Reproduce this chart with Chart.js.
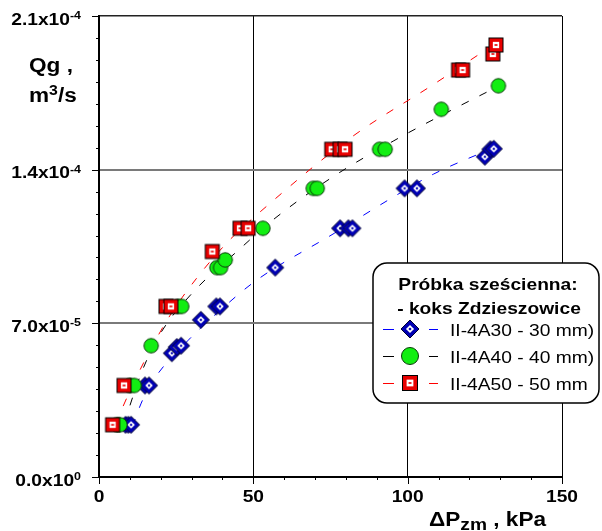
<!DOCTYPE html>
<html>
<head>
<meta charset="utf-8">
<script src="https://cdn.jsdelivr.net/npm/chart.js@4.4.1/dist/chart.umd.min.js"></script>
<style>
  html, body { margin: 0; padding: 0; background: #fff; }
  #wrap { width: 602px; height: 531px; }
</style>
</head>
<body>
<div id="wrap"><canvas id="chart" width="602" height="531"></canvas></div>
<script>
// ---- dane ----
const xTicks = [0, 50, 100, 150];
const yTicks = [0, 7e-5, 1.4e-4, 2.1e-4];
const legendTitle = ['Próbka sześcienna:', '- koks Zdzieszowice'];
const seriesNames = ['II-4A30 - 30 mm)', 'II-4A40 - 40 mm)', 'II-4A50 - 50 mm'];

// II-4A30 (niebieskie romby)
const dp30 = [8.6, 9.5, 10.4, 14.9, 16.2, 23.6, 25.2, 26.6, 33.0, 38.0, 39.2, 57.1, 78.1, 80.8, 82.1, 99.0, 103.0, 125.0, 126.8, 127.9];
const q30  = [2.38e-5, 2.38e-5, 2.38e-5, 4.17e-5, 4.17e-5, 5.64e-5, 5.92e-5, 5.98e-5, 7.16e-5, 7.77e-5, 7.77e-5, 9.54e-5, 11.33e-5, 11.33e-5, 11.33e-5, 13.15e-5, 13.15e-5, 14.59e-5, 14.93e-5, 14.95e-5];
// II-4A40 (zielone kola)
const dp40 = [5.8, 6.8, 10.0, 11.4, 16.9, 25.7, 26.8, 38.2, 39.4, 40.9, 53.1, 69.4, 70.7, 90.9, 92.7, 110.9, 129.4];
const q40  = [2.38e-5, 2.38e-5, 4.17e-5, 4.17e-5, 5.98e-5, 7.77e-5, 7.77e-5, 9.54e-5, 9.54e-5, 9.89e-5, 11.33e-5, 13.15e-5, 13.15e-5, 14.93e-5, 14.93e-5, 16.75e-5, 17.82e-5];
// II-4A50 (czerwone kwadraty)
const dp50 = [4.4, 8.1, 21.7, 23.3, 36.7, 45.7, 48.3, 75.4, 78.1, 79.7, 116.5, 117.8, 127.6, 128.6];
const q50  = [2.38e-5, 4.17e-5, 7.77e-5, 7.77e-5, 10.27e-5, 11.33e-5, 11.33e-5, 14.93e-5, 14.93e-5, 14.93e-5, 18.54e-5, 18.54e-5, 19.27e-5, 19.68e-5];

const fit30x = [10.8, 14.1, 18.3, 28.7, 38.1, 50.9, 76.2, 95.9, 108.4, 128.7];
const fit30y = [2.3e-5, 3.5e-5, 4.55e-5, 6.2e-5, 7.45e-5, 8.95e-5, 11.1e-5, 12.8e-5, 13.8e-5, 15.05e-5];
const fit40x = [8.0, 13.6, 19.3, 29.7, 45.7, 56.7, 75.5, 95.3, 115.4, 128.7];
const fit40y = [2.4e-5, 4.7e-5, 6.4e-5, 8.3e-5, 10.4e-5, 11.75e-5, 13.65e-5, 15.3e-5, 16.8e-5, 17.75e-5];
const fit50x = [5.2, 12.3, 22.3, 31.6, 42.0, 52.8, 82.0, 108.0, 129.0];
const fit50y = [2.4e-5, 4.6e-5, 7.2e-5, 9.05e-5, 10.75e-5, 12.15e-5, 15.5e-5, 17.85e-5, 19.8e-5];

const colors = ['#0000ff', '#000000', '#ff0000'];
const SX = 1.13; // tekst w oryginale jest lekko rozciagniety w poziomie

function pts(xs, ys) { return xs.map((x, i) => ({ x: x, y: ys[i] })); }

function diamondPath(g, cx, cy, h) {
  g.beginPath();
  g.moveTo(cx, cy - h); g.lineTo(cx + h, cy); g.lineTo(cx, cy + h); g.lineTo(cx - h, cy);
  g.closePath();
}

// markery jako male canvasy
function marker(kind, big) {
  const s = big ? 22 : 20;
  const c = document.createElement('canvas');
  c.width = s; c.height = s;
  const g = c.getContext('2d');
  const m = s / 2;
  if (kind === 'diamond') {
    const h = big ? 9 : 8.5;
    diamondPath(g, m, m, h);
    g.fillStyle = '#0000b4'; g.fill();
    g.lineWidth = 1; g.strokeStyle = '#000030'; g.stroke();
    diamondPath(g, m, m, h * 0.45);
    g.fillStyle = '#fff'; g.fill();
    diamondPath(g, m, m, h * 0.18);
    g.fillStyle = '#0000b4'; g.fill();
  } else if (kind === 'circle') {
    const r = big ? 8.5 : 7.2;
    g.beginPath(); g.arc(m, m, r, 0, Math.PI * 2);
    g.fillStyle = '#12ee12'; g.fill();
    g.lineWidth = 1; g.strokeStyle = '#0a3a0a'; g.stroke();
  } else {
    const h = big ? 7.5 : 7;
    g.fillStyle = '#e80000';
    g.fillRect(m - h, m - h, 2 * h, 2 * h);
    g.lineWidth = 1; g.strokeStyle = '#000';
    g.strokeRect(m - h, m - h, 2 * h, 2 * h);
    g.fillStyle = '#fff';
    g.fillRect(m - h * 0.45, m - h * 0.45, h * 0.9, h * 0.9);
    g.fillStyle = '#e80000';
    g.fillRect(m - 1.5, m - 0.8, 3, 1.6);
  }
  return c;
}

const mk = [marker('diamond'), marker('circle'), marker('square')];
const mkBig = [marker('diamond', true), marker('circle', true), marker('square', true)];

function txt(ctx, s, x, y, font, align) {
  ctx.font = font;
  const w = ctx.measureText(s).width * SX;
  const x0 = align === 'center' ? x - w / 2 : (align === 'right' ? x - w : x);
  ctx.save();
  ctx.translate(x0, y);
  ctx.scale(SX, 1);
  ctx.textAlign = 'left';
  ctx.textBaseline = 'alphabetic';
  ctx.fillText(s, 0, 0);
  ctx.restore();
  return w;
}

const FONT = '"Liberation Sans", Arial, sans-serif';

// osie, etykiety i legenda
const decor = {
  id: 'decor',
  afterDraw(chart) {
    const ctx = chart.ctx;
    const a = chart.chartArea;
    const x = chart.scales.x, y = chart.scales.y;
    ctx.save();
    ctx.strokeStyle = '#000';
    ctx.fillStyle = '#000';
    ctx.lineWidth = 1;

    // podzialki
    for (let i = 0; i <= 15; i++) {
      const px = Math.round(x.getPixelForValue(i * 10)) + 0.5;
      const len = i % 5 === 0 ? 7 : 3;
      ctx.beginPath(); ctx.moveTo(px, a.bottom); ctx.lineTo(px, a.bottom + len); ctx.stroke();
    }
    for (let i = 0; i <= 21; i++) {
      const py = Math.round(y.getPixelForValue(i * 1e-5)) + 0.5;
      const len = i % 7 === 0 ? 7 : 3;
      ctx.beginPath(); ctx.moveTo(a.left, py); ctx.lineTo(a.left - len, py); ctx.stroke();
    }

    // etykiety osi Y: 2.1x10^-4
    yTicks.forEach(v => {
      const parts = v.toExponential(1).split('e');
      const ex = parts[1].replace('+', '');
      const py = y.getPixelForValue(v);
      ctx.font = 'bold 11px ' + FONT;
      const ew = ctx.measureText(ex).width * SX;
      txt(ctx, ex, 81, py + 3, 'bold 11px ' + FONT, 'right');
      txt(ctx, parts[0] + 'x10', 81 - ew, py + 8.5, 'bold 17px ' + FONT, 'right');
    });

    // etykiety osi X
    xTicks.forEach(v => {
      txt(ctx, String(v), x.getPixelForValue(v), 502, 'bold 17px ' + FONT, 'center');
    });

    // tytul osi Y
    txt(ctx, 'Qg ,', 29, 72, 'bold 20px ' + FONT, 'left');
    let cx = 29;
    cx += txt(ctx, 'm', cx, 102, 'bold 20px ' + FONT, 'left');
    cx += txt(ctx, '3', cx, 95, 'bold 14px ' + FONT, 'left');
    txt(ctx, '/s', cx, 102, 'bold 20px ' + FONT, 'left');

    // tytul osi X
    cx = 429;
    cx += txt(ctx, '\u0394P', cx, 526, 'bold 20px ' + FONT, 'left');
    cx += txt(ctx, 'zm', cx, 530, 'bold 17px ' + FONT, 'left');
    txt(ctx, ' , kPa', cx, 526, 'bold 20px ' + FONT, 'left');

    // legenda
    const L = 373, T = 263, W = 226, H = 140, R = 14;
    ctx.beginPath();
    ctx.roundRect(L, T, W, H, R);
    ctx.fillStyle = '#fff'; ctx.fill();
    ctx.lineWidth = 1.5; ctx.strokeStyle = '#000'; ctx.stroke();
    ctx.fillStyle = '#000';
    txt(ctx, legendTitle[0], 488, 289.5, 'bold 17px ' + FONT, 'center');
    txt(ctx, legendTitle[1], 489, 313.5, 'bold 17px ' + FONT, 'center');
    seriesNames.forEach((name, i) => {
      const ly = 329 + i * 27;
      ctx.strokeStyle = colors[i]; ctx.lineWidth = 1;
      ctx.beginPath();
      ctx.moveTo(383, ly + 0.5); ctx.lineTo(394, ly + 0.5);
      ctx.moveTo(429, ly + 0.5); ctx.lineTo(438, ly + 0.5);
      ctx.stroke();
      const img = mkBig[i];
      ctx.drawImage(img, 410 - img.width / 2, ly - img.height / 2);
      ctx.fillStyle = '#000';
      txt(ctx, name, 450, ly + 7, '17px ' + FONT, 'left');
    });
    ctx.restore();
  }
};

const fitDs = (xs, ys, i) => ({
  data: pts(xs, ys), showLine: true, pointRadius: 0, borderColor: colors[i],
  borderWidth: 1, borderDash: [8, 12], cubicInterpolationMode: 'monotone', order: 2
});
const ptDs = (xs, ys, i) => ({
  label: seriesNames[i], data: pts(xs, ys), showLine: false,
  pointStyle: mk[i], pointRadius: 8, order: 1
});

new Chart(document.getElementById('chart'), {
  type: 'scatter',
  data: {
    datasets: [
      fitDs(fit30x, fit30y, 0), fitDs(fit40x, fit40y, 1), fitDs(fit50x, fit50y, 2),
      ptDs(dp50, q50, 2), ptDs(dp40, q40, 1), ptDs(dp30, q30, 0)
    ]
  },
  options: {
    responsive: false,
    animation: false,
    events: [],
    layout: { padding: { left: 99, right: 40, top: 16, bottom: 54 } },
    plugins: { legend: { display: false }, tooltip: { enabled: false } },
    scales: {
      x: {
        type: 'linear', min: 0, max: 150,
        afterBuildTicks: s => { s.ticks = xTicks.map(v => ({ value: v })); },
        ticks: { display: false },
        border: { display: true, color: '#000', width: 2 },
        grid: {
          drawTicks: false,
          color: c => c.index === 0 ? 'rgba(0,0,0,0)' : '#000',
          lineWidth: 1
        }
      },
      y: {
        type: 'linear', min: 0, max: 2.1e-4,
        afterBuildTicks: s => { s.ticks = yTicks.map(v => ({ value: v })); },
        ticks: { display: false },
        border: { display: true, color: '#000', width: 2 },
        grid: {
          drawTicks: false,
          color: c => c.index === 0 ? 'rgba(0,0,0,0)' : (c.index === 3 ? '#222' : '#7a7a7a'),
          lineWidth: c => c.index === 3 ? 1.5 : 2
        }
      }
    }
  },
  plugins: [decor]
});
</script>
</body>
</html>
